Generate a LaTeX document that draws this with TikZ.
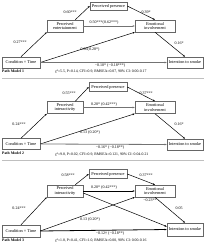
\documentclass[tikz,border=0pt]{standalone}
\usepackage{fontspec}
\setmainfont{Liberation Serif}
\usetikzlibrary{arrows.meta}
\begin{document}
\begin{tikzpicture}[x=1pt,y=-1pt,
  bx/.style={draw=black!60,line width=0.5pt,fill=white,align=center,inner sep=0pt,font=\fontsize{4.3}{4.8}\selectfont},
  lbl/.style={font=\fontsize{4}{4.5}\selectfont,inner sep=0.3pt},
  captxt/.style={font=\fontsize{3.8}{4.5}\selectfont,inner sep=0pt,anchor=west},
  capbold/.style={font=\fontsize{3.8}{4.5}\selectfont\bfseries,inner sep=0pt,anchor=west},
  ar/.style={-{Stealth[length=2.2pt,width=1.8pt]},line width=0.5pt,black},
  gar/.style={-{Stealth[length=2.2pt,width=1.8pt]},line width=0.8pt,black!55}]
\useasboundingbox (0,0) rectangle (206,245);
\fill[white] (0,0) rectangle (206,245);
% ---------- Panel 1 ----------
\node[bx,minimum width=37pt,minimum height=8pt] (pp1) at (108.5,6) {Perceived presence};
\node[bx,minimum width=36pt,minimum height=12pt] (pe1) at (65,26) {Perceived\\entertainment};
\node[bx,minimum width=40pt,minimum height=12pt] (ei1) at (155,26) {Emotional\\involvement};
\node[bx,minimum width=38pt,minimum height=11pt] (ct1) at (21,62.5) {Condition × Time};
\node[bx,minimum width=36pt,minimum height=11pt] (is1) at (185,62.5) {Intention to smoke};
\draw[ar] (ct1.north) -- (pe1.south west);
\draw[ar] ([xshift=-8pt]pe1.north east) -- (pp1.west);
\draw[ar] (pp1.east) -- (ei1.north);
\draw[gar] (pe1.east) -- (ei1.west);
\draw[ar] (ct1.east) -- (ei1.south west);
\draw[ar] (ei1.south) -- (is1.north);
\draw[gar] (ct1.east) -- (is1.west);
\node[lbl] (l11) at (70,12) {0.60***};
\node[lbl] (l12) at (146,12) {0.39*};
\node[lbl] (l13) at (104,23) {0.50***(0.62***)};
\node[lbl] (l14) at (20,42) {0.27***};
\node[lbl] (l15) at (90,50) {0.06(0.28*)};
\node[lbl] (l16) at (179,43) {0.16*};
\node[lbl] (l17) at (110,66) {−0.10* (−0.18***)};
\node[capbold] (m1) at (2,71.5) {Path Model 1};
\node[captxt] (c1) at (55,71.5) {χ²=5.5, P=0.14, CFI=0.9, RMSEA=0.07, 90\% CI: 0.00-0.17};
\draw[black!25,line width=0.4pt] (2,78.5) -- (204,78.5);
% ---------- Panel 2 ----------
\node[bx,minimum width=38pt,minimum height=9pt] (pp2) at (108,87) {Perceived presence};
\node[bx,minimum width=36pt,minimum height=12pt] (pe2) at (65,107.5) {Perceived\\interactivity};
\node[bx,minimum width=40pt,minimum height=12pt] (ei2) at (155,107.5) {Emotional\\involvement};
\node[bx,minimum width=38pt,minimum height=11pt] (ct2) at (21,144) {Condition × Time};
\node[bx,minimum width=36pt,minimum height=11pt] (is2) at (185,144.5) {Intention to smoke};
\draw[ar] (ct2.north) -- (pe2.south west);
\draw[ar] ([xshift=-8pt]pe2.north east) -- (pp2.west);
\draw[ar] (pp2.east) -- (ei2.north);
\draw[gar] (pe2.east) -- (ei2.west);
\draw[ar] (ct2.east) -- (ei2.south west);
\draw[ar] (ei2.south) -- (is2.north);
\draw[gar] (ct2.east) -- (is2.west);
\node[lbl] (l21) at (69,93) {0.55***};
\node[lbl] (l22) at (146,93) {0.37***};
\node[lbl] (l23) at (104,105) {0.20* (0.42***)};
\node[lbl] (l24) at (19,124) {0.24***};
\node[lbl] (l25) at (90,133) {0.13 (0.20*)};
\node[lbl] (l26) at (179,124) {0.16*};
\node[lbl] (l27) at (110,148) {−0.16* (−0.18**)};
\node[capbold] (m2) at (2,153) {Path Model 2};
\node[captxt] (c2) at (55,154.5) {χ²=9.8, P=0.02, CFI=0.9, RMSEA=0.121, 90\% CI: 0.04-0.21};
\draw[black!25,line width=0.4pt] (2,160.5) -- (204,160.5);
% ---------- Panel 3 ----------
\node[bx,minimum width=38pt,minimum height=9pt] (pp3) at (108,174) {Perceived presence};
\node[bx,minimum width=36pt,minimum height=12pt] (pe3) at (65,191) {Perceived\\interactivity};
\node[bx,minimum width=40pt,minimum height=12pt] (ei3) at (155,191) {Emotional\\involvement};
\node[bx,minimum width=38pt,minimum height=12pt] (ct3) at (21,231) {Condition × Time};
\node[bx,minimum width=36pt,minimum height=13pt] (is3) at (185,229.5) {Intention to smoke};
\draw[ar] (ct3.north) -- (pe3.south west);
\draw[ar] ([xshift=-8pt]pe3.north east) -- (pp3.west);
\draw[ar] (pp3.east) -- (ei3.north);
\draw[ar,line width=0.8pt] (pe3.east) -- (ei3.west);
\draw[ar] ([yshift=-2pt]pe3.east) -- ([yshift=3pt]is3.west);
\draw[ar] (ct3.east) -- (ei3.south west);
\draw[ar] (ei3.south) -- (is3.north);
\draw[ar,line width=0.8pt] (ct3.east) -- (is3.west);
\node[lbl] (l31) at (68,175) {0.58***};
\node[lbl] (l32) at (146,175) {0.37***};
\node[lbl] (l33) at (104,188) {0.20* (0.42***)};
\node[lbl] (l38) at (150,200) {−0.23**};
\node[lbl] (l34) at (19,208) {0.24***};
\node[lbl] (l35) at (90,220) {0.13 (0.20*)};
\node[lbl] (l36) at (179,208) {0.05};
\node[lbl] (l37) at (110,234) {−0.12† (−0.18**)};
\node[capbold] (m3) at (2,240) {Path Model 3};
\node[captxt] (c3) at (55,241) {χ²=1.8, P=0.41, CFI=1.0, RMSEA=0.00, 90\% CI: 0.00-0.16};
\end{tikzpicture}
\end{document}
